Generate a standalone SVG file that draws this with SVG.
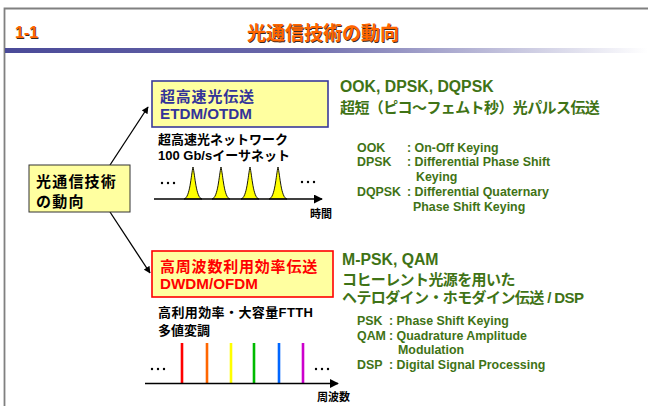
<svg xmlns="http://www.w3.org/2000/svg" width="648" height="406" viewBox="0 0 648 406">
<defs>
<linearGradient id="band" x1="0" y1="0" x2="1" y2="0">
<stop offset="0" stop-color="#4a4a98"/>
<stop offset="0.45" stop-color="#6a68aa"/>
<stop offset="1" stop-color="#ffffff"/>
</linearGradient>
<marker id="ah" viewBox="0 0 10 10" refX="9" refY="5" markerWidth="7" markerHeight="7" markerUnits="userSpaceOnUse" orient="auto">
<path d="M0,0 L10,5 L0,10 Z" fill="#000"/>
</marker>
<marker id="ah2" viewBox="0 0 10 10" refX="9" refY="5" markerWidth="9" markerHeight="9" markerUnits="userSpaceOnUse" orient="auto">
<path d="M0,0 L10,5 L0,10 Z" fill="#000"/>
</marker>
<path id="pulse" d="M-9,0 C-3,-1 -2,-24 0,-32 C2,-24 3,-1 9,0 Z"/>
</defs>
<style>
text{font-family:'Liberation Sans','Noto Sans CJK JP',sans-serif;font-weight:bold}
.title{fill:#ff6600;font-size:19px}
.shadow{fill:#3a2a20;font-size:19px}
.k{fill:#000;font-size:13px}
.g{fill:#3f7316;font-size:15px}
.gl{fill:#3f7316;font-size:15.8px}
.d{fill:#3f7316;font-size:12.4px}
.box{fill:#ffffa0}
.bj{font-size:15px;letter-spacing:0.8px}
.bl{font-size:15.2px}
</style>
<rect width="648" height="406" fill="#fff"/>
<!-- frame -->
<path d="M4.5,406 V8.5 H648" fill="none" stroke="#808080" stroke-width="1.8"/>
<rect x="5" y="48" width="643" height="5" fill="url(#band)"/>
<text x="15.8" y="38.8" class="shadow" style="font-size:16px">1-1</text>
<text x="15" y="38" class="title" style="font-size:16px">1-1</text>
<text x="323.8" y="40.8" class="shadow" text-anchor="middle">光通信技術の動向</text>
<text x="323" y="40" class="title" text-anchor="middle">光通信技術の動向</text>

<g id="connectors" stroke="#000" stroke-width="1.3" fill="none">
<line x1="110" y1="165" x2="148" y2="107" marker-end="url(#ah)"/>
<line x1="110" y1="212" x2="150" y2="273" marker-end="url(#ah)"/>
</g>

<g id="node-center">
<rect x="29" y="165" width="101" height="47" class="box" stroke="#333" stroke-width="1"/>
<text x="36" y="187" class="bj" style="letter-spacing:1.2px">光通信技術</text>
<text x="36" y="207" class="bj" style="letter-spacing:1.2px">の動向</text>
</g>

<g id="node-top">
<rect x="152" y="81" width="176" height="46" class="box" stroke="#3a3a9a" stroke-width="1.6"/>
<text x="160" y="102" fill="#333399" class="bj">超高速光伝送</text>
<text x="160" y="119" fill="#333399" class="bl">ETDM/OTDM</text>
</g>

<g id="node-bottom">
<rect x="152" y="251" width="181" height="46" class="box" stroke="#ff0000" stroke-width="1.6"/>
<text x="160" y="272" fill="#ff0000" class="bj">高周波数利用効率伝送</text>
<text x="160" y="289" fill="#ff0000" class="bl">DWDM/OFDM</text>
</g>

<g id="time-plot">
<text x="158" y="144" class="k">超高速光ネットワーク</text>
<text x="158" y="160" class="k">100 Gb/sイーサネット</text>
<g fill="#ffff00" stroke="#000" stroke-width="0.9">
<use href="#pulse" x="193" y="199"/>
<use href="#pulse" x="221" y="199"/>
<use href="#pulse" x="250" y="199"/>
<use href="#pulse" x="278" y="199"/>
</g>
<line x1="154" y1="199" x2="322" y2="199" stroke="#000" stroke-width="1.3" marker-end="url(#ah2)"/>
<g fill="#000"><circle cx="162" cy="183" r="1.2"/><circle cx="168" cy="183" r="1.2"/><circle cx="174" cy="183" r="1.2"/>
<circle cx="302" cy="182" r="1.2"/><circle cx="308" cy="182" r="1.2"/><circle cx="314" cy="182" r="1.2"/></g>
<text x="310" y="218" class="k" style="font-size:11px">時間</text>
</g>

<g id="freq-plot">
<text x="158" y="317" class="k" style="letter-spacing:0.4px">高利用効率・大容量FTTH</text>
<text x="158" y="335" class="k">多値変調</text>
<g stroke-width="2.6">
<line x1="182" y1="343" x2="182" y2="383" stroke="#ff0000"/>
<line x1="207" y1="343" x2="207" y2="383" stroke="#ff6600"/>
<line x1="231" y1="343" x2="231" y2="383" stroke="#ffff00"/>
<line x1="254" y1="343" x2="254" y2="383" stroke="#00bb00"/>
<line x1="279" y1="343" x2="279" y2="383" stroke="#0066ff"/>
<line x1="303" y1="343" x2="303" y2="383" stroke="#cc00cc"/>
</g>
<line x1="145" y1="383.5" x2="338" y2="383.5" stroke="#000" stroke-width="1.3" marker-end="url(#ah2)"/>
<g fill="#000"><circle cx="152" cy="369" r="1.2"/><circle cx="158" cy="369" r="1.2"/><circle cx="164" cy="369" r="1.2"/>
<circle cx="316" cy="369" r="1.2"/><circle cx="322" cy="369" r="1.2"/><circle cx="328" cy="369" r="1.2"/></g>
<text x="317" y="401" class="k" style="font-size:11px">周波数</text>
</g>

<g id="text-top">
<text x="340" y="92" class="gl">OOK, DPSK, DQPSK</text>
<text x="340" y="113" class="g" style="letter-spacing:-0.6px">超短（ピコ～フェムト秒）光パルス伝送</text>
<text x="357" y="152" class="d">OOK</text><text x="407" y="152" class="d">: On-Off Keying</text>
<text x="357" y="166" class="d">DPSK</text><text x="407" y="166" class="d">: Differential Phase Shift</text>
<text x="416" y="181" class="d">Keying</text>
<text x="357" y="196" class="d">DQPSK</text><text x="407" y="196" class="d">: Differential Quaternary</text>
<text x="413" y="211" class="d">Phase Shift Keying</text>
</g>

<g id="text-bottom">
<text x="342" y="265" class="gl">M-PSK, QAM</text>
<text x="342" y="285" class="g" style="letter-spacing:-0.6px">コヒーレント光源を用いた</text>
<text x="342" y="303" class="g" style="letter-spacing:-0.6px">ヘテロダイン・ホモダイン伝送 / DSP</text>
<text x="357" y="325" class="d">PSK</text><text x="389" y="325" class="d">: Phase Shift Keying</text>
<text x="357" y="340" class="d">QAM</text><text x="389" y="340" class="d">: Quadrature Amplitude</text>
<text x="398" y="354" class="d">Modulation</text>
<text x="357" y="369" class="d">DSP</text><text x="389" y="369" class="d">: Digital Signal Processing</text>
</g>
</svg>
